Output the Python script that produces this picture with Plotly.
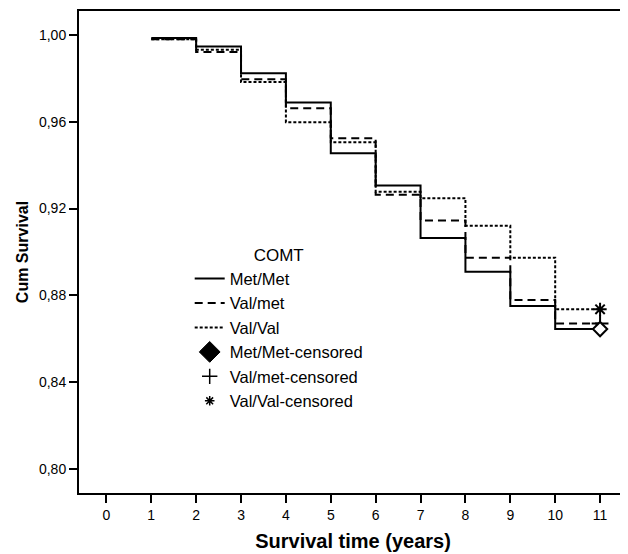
import plotly.graph_objects as go

# ---- data ----
years = [1, 2, 3, 4, 5, 6, 7, 8, 9, 10, 11]
met_met = [0.9986, 0.9947, 0.9823, 0.9688, 0.9455, 0.9306, 0.9065, 0.8909, 0.8751, 0.8645, 0.8645]
val_met = [0.9980, 0.9921, 0.9796, 0.9662, 0.9524, 0.9264, 0.9145, 0.8974, 0.8779, 0.8671, 0.8671]
val_val = [0.9980, 0.9932, 0.9783, 0.9598, 0.9506, 0.9277, 0.9248, 0.9121, 0.8974, 0.8736, 0.8736]
censor_time = [11]
met_met_cens = [0.8645]
val_met_cens = [0.8671]
val_val_cens = [0.8736]

x_ticks = list(range(0, 12))
y_ticks = [0.80, 0.84, 0.88, 0.92, 0.96, 1.00]
y_tick_text = ["0,80", "0,84", "0,88", "0,92", "0,96", "1,00"]

FONT = "Liberation Sans"

fig = go.Figure()

fig.add_trace(go.Scatter(x=years, y=met_met, mode="lines", line_shape="hv",
                         line=dict(color="black", width=2), name="Met/Met"))
fig.add_trace(go.Scatter(x=years, y=val_met, mode="lines", line_shape="hv",
                         line=dict(color="black", width=2, dash="8px,5px"), name="Val/met"))
fig.add_trace(go.Scatter(x=years, y=val_val, mode="lines", line_shape="hv",
                         line=dict(color="black", width=2, dash="3px,2px"), name="Val/Val"))

# censored markers on the chart
fig.add_trace(go.Scatter(x=censor_time, y=val_met_cens, mode="markers", showlegend=False,
                         marker=dict(symbol="cross-thin-open", size=12, color="black",
                                     line=dict(color="black", width=2))))
fig.add_trace(go.Scatter(x=censor_time, y=met_met_cens, mode="markers", showlegend=False,
                         marker=dict(symbol="diamond", size=11, color="white",
                                     line=dict(color="black", width=2))))
fig.add_trace(go.Scatter(x=censor_time, y=val_val_cens, mode="markers", showlegend=False,
                         marker=dict(symbol="asterisk-open", size=11, color="black",
                                     line=dict(color="black", width=2))))

# legend entries for censored
fig.add_trace(go.Scatter(x=[None], y=[None], mode="markers", name="Met/Met-censored",
                         marker=dict(symbol="diamond", size=16, color="black",
                                     line=dict(color="black", width=1))))
fig.add_trace(go.Scatter(x=[None], y=[None], mode="markers", name="Val/met-censored",
                         marker=dict(symbol="cross-thin-open", size=11, color="black",
                                     line=dict(color="black", width=1.5))))
fig.add_trace(go.Scatter(x=[None], y=[None], mode="markers", name="Val/Val-censored",
                         marker=dict(symbol="asterisk-open", size=8, color="black",
                                     line=dict(color="black", width=1.5))))

fig.update_layout(
    width=620, height=546,
    margin=dict(l=71, r=1, t=3, b=61, autoexpand=False),
    paper_bgcolor="white", plot_bgcolor="white",
    font=dict(family=FONT, color="black", size=14),
    legend=dict(
        x=0.202, y=0.5265, xanchor="left", yanchor="top",
        bgcolor="rgba(0,0,0,0)", borderwidth=0,
        font=dict(family=FONT, size=16.5, color="black"),
        title=dict(text="COMT", side="top center", font=dict(family=FONT, size=17)),
        tracegroupgap=0, itemwidth=30,
    ),
)

fig.update_xaxes(
    range=[-0.61, 11.6], tickmode="array", tickvals=x_ticks,
    ticks="outside", ticklen=8, tickwidth=2, tickcolor="black",
    showline=True, linecolor="black", linewidth=2, mirror=True,
    showgrid=False, zeroline=False, automargin=False,
    tickfont=dict(family=FONT, size=14),
    title=dict(text="<b>Survival time (years)</b>", font=dict(family=FONT, size=20), standoff=12),
)
fig.update_yaxes(
    range=[0.789, 1.011], tickmode="array", tickvals=y_ticks, ticktext=y_tick_text,
    ticks="outside", ticklen=8, tickwidth=2, tickcolor="black",
    showline=True, linecolor="black", linewidth=2, mirror=True,
    showgrid=False, zeroline=False, automargin=False,
    tickfont=dict(family=FONT, size=14),
    title=dict(text="<b>Cum Survival</b>", font=dict(family=FONT, size=16), standoff=6),
)

fig.write_html("out.html")
